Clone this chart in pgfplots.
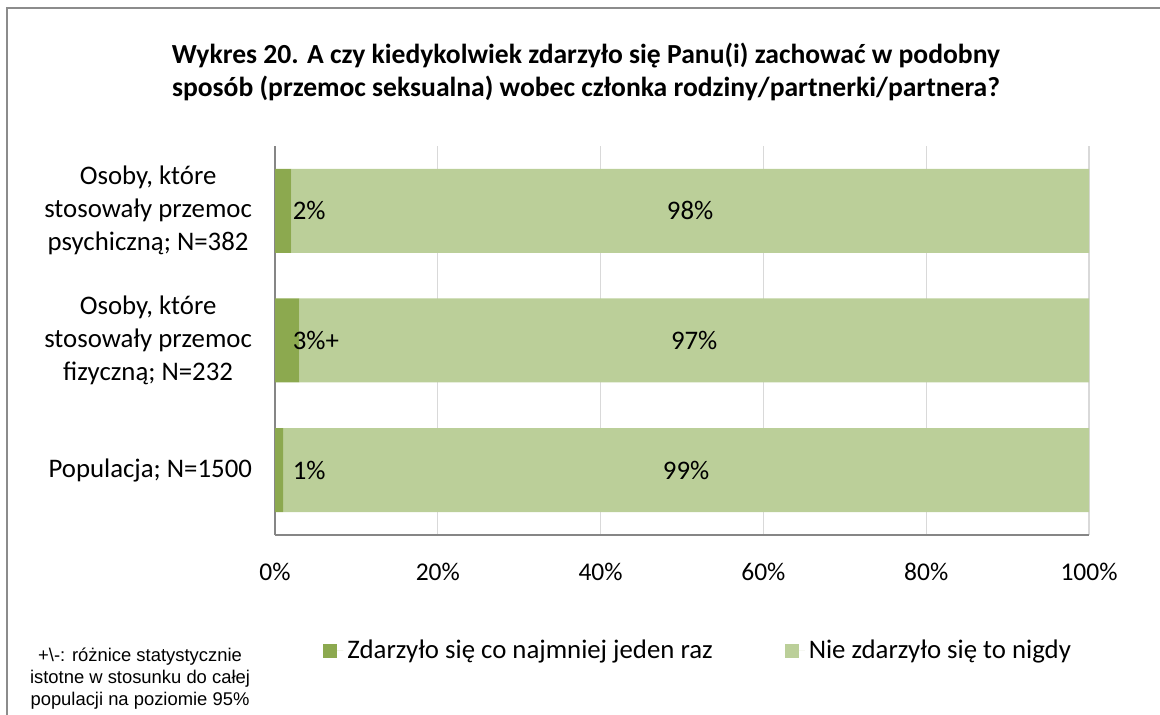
\documentclass[border=0pt]{standalone}
\usepackage{fontspec}
\setmainfont{Carlito}
\newfontfamily\arialfont{Liberation Sans}
\usepackage{pgfplots}
\pgfplotsset{compat=1.18}
\definecolor{cDark}{HTML}{8CA94F}
\definecolor{cLight}{HTML}{BBCF99}
\definecolor{cAxis}{HTML}{868686}
\definecolor{cGrid}{HTML}{D9D9D9}
\definecolor{cFrame}{HTML}{8C8C8C}

\begin{document}
\begin{tikzpicture}[x=1pt,y=1pt]
\useasboundingbox (0,0) rectangle (580,357.5);
\draw[cFrame, line width=1pt] (3.5,0) -- (3.5,353.5) -- (580,353.5);
\begin{axis}[at={(137.5pt,90pt)}, anchor=south west, scale only axis,
  width=407pt, height=194.5pt,
  xbar stacked, bar width=42pt,
  xmin=0, xmax=100, ymin=-0.5, ymax=2.5,
  xtick={0,20,40,60,80,100}, xticklabels={0\%,20\%,40\%,60\%,80\%,100\%},
  ytick={0,1,2},
  yticklabels={Populacja; N=1500,
    {Osoby, które\\stosowały przemoc\\fizyczną; N=232},
    {Osoby, które\\stosowały przemoc\\psychiczną; N=382}},
  major tick length=0pt,
  axis x line*=bottom, axis y line*=left,
  axis line style={-, draw=cAxis, line width=0.9pt},
  xmajorgrids, grid style={draw=cGrid, line width=0.6pt},
  xticklabel style={font=\fontsize{12.75}{16.5}\selectfont, yshift=-10.5pt},
  yticklabel style={font=\fontsize{13.4}{16.5}\selectfont, align=center, xshift=-8pt},
  legend style={draw=none, at={(0.521,-0.298)}, anchor=center,
    font=\fontsize{13.4}{16.5}\selectfont,
    /tikz/every even column/.append style={column sep=34pt}},
  legend columns=2,
  legend image code/.code={\fill[#1] (0pt,-3.5pt) rectangle (7pt,3.5pt);
    \path (0pt,0pt) -- (10pt,0pt);},
  point meta=explicit symbolic,
  visualization depends on={rawx/2 \as \hx},
  nodes near coords,
]
% labels sit at the middle of each segment; the dark ones go to just after 0
\addplot[fill=cDark, draw=none,
  every node near coord/.style={font=\fontsize{13.4}{16.5}\selectfont, text=black,
    anchor=west, inner sep=0pt,
    shift={(axis direction cs:-\hx,0)}, xshift=8.7pt}]
  coordinates {(1,0) [1\%] (3,1) [3\%+] (2,2) [2\%]};
\addlegendentry{Zdarzyło się co najmniej jeden raz}
\addplot[fill=cLight, draw=none,
  every node near coord/.style={font=\fontsize{13.4}{16.5}\selectfont, text=black,
    anchor=center}]
  coordinates {(99,0) [99\%] (97,1) [97\%] (98,2) [98\%]};
\addlegendentry{Nie zdarzyło się to nigdy}
\end{axis}
\node[font=\fontsize{13.8}{16.5}\selectfont\bfseries, align=center, anchor=north, inner sep=0pt]
  at (293,336) {Wykres 20. A czy kiedykolwiek zdarzyło się Panu(i) zachować w podobny\\sposób (przemoc seksualna) wobec członka rodziny/partnerki/partnera?};
\node[font=\arialfont\fontsize{9.2}{11}\selectfont, align=center, anchor=north, inner sep=0pt]
  at (70,33.5) {+\textbackslash-: różnice statystycznie\\istotne w stosunku do całej\\populacji na poziomie 95\%};
\end{tikzpicture}
\end{document}
